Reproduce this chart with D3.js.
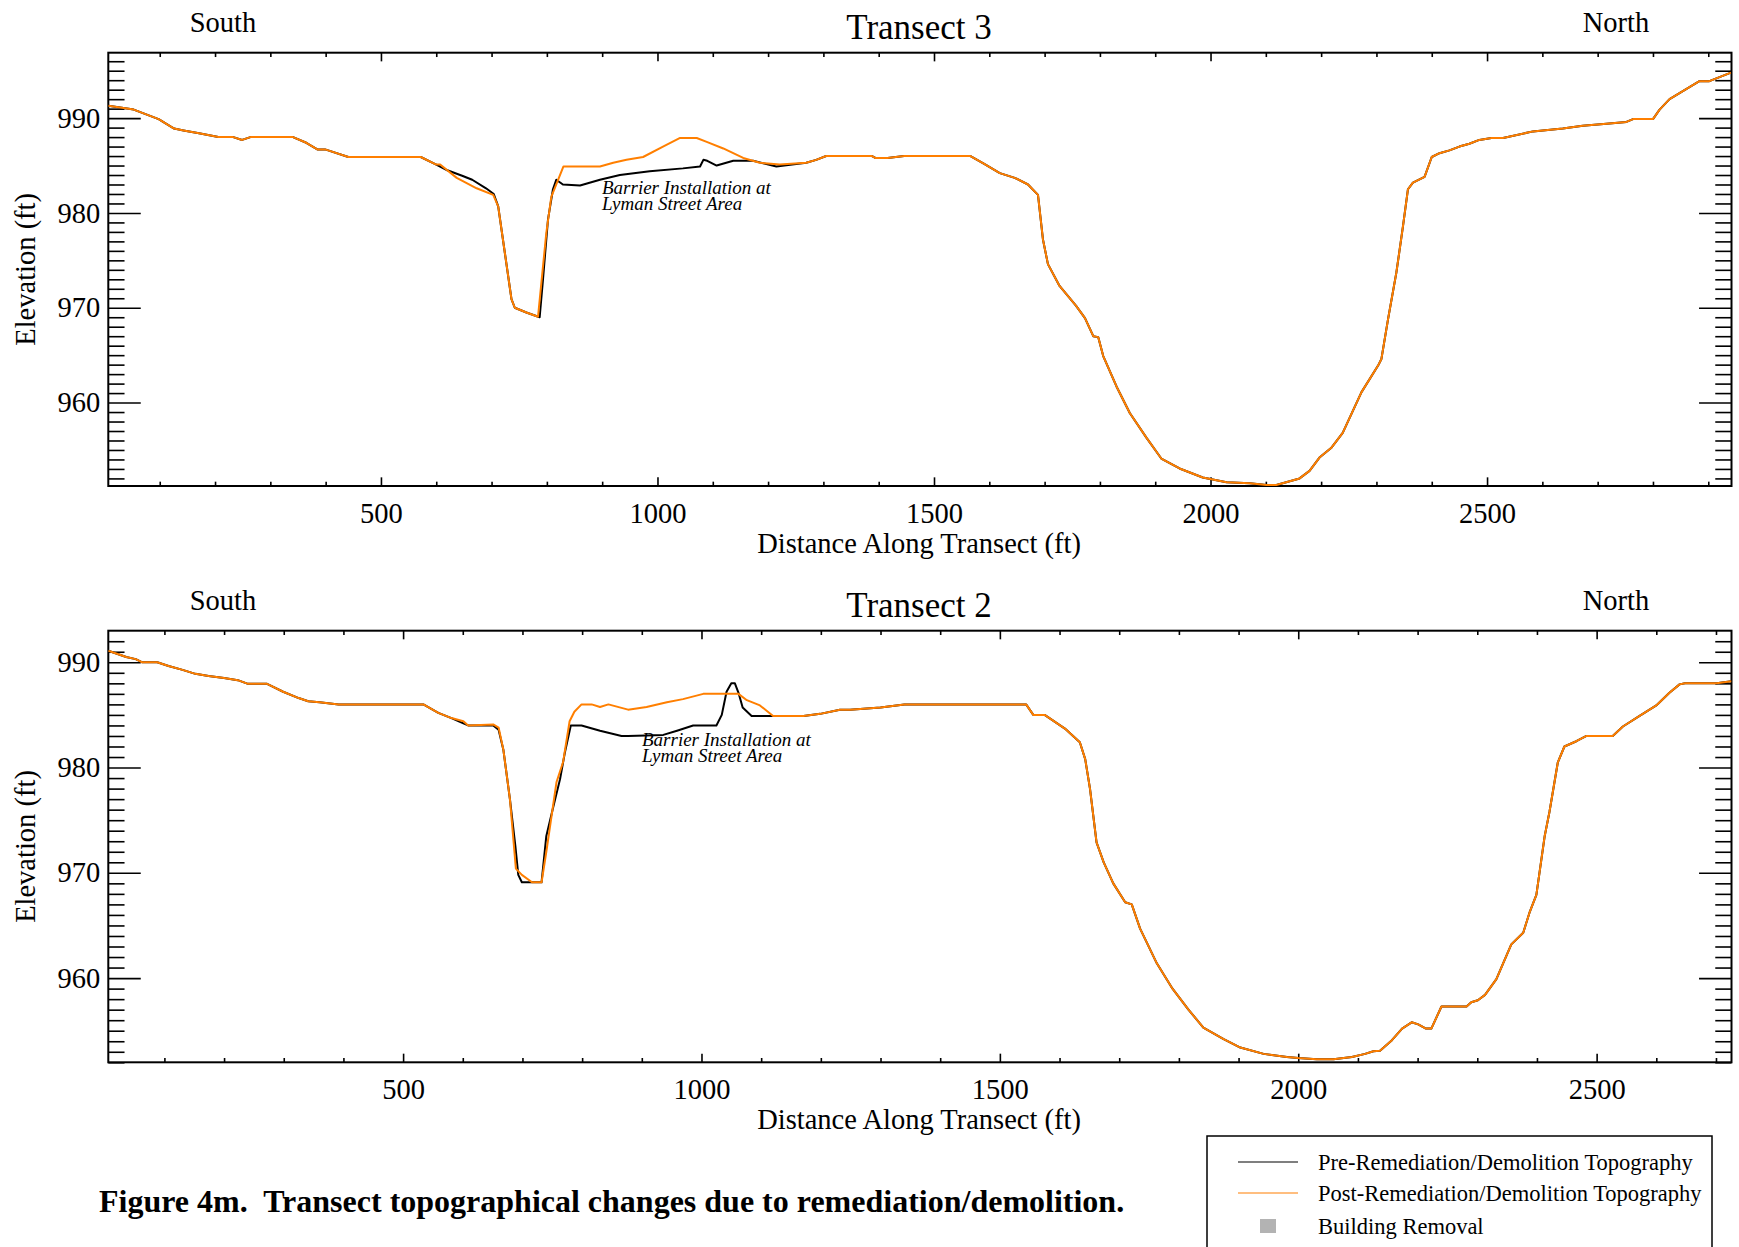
<!DOCTYPE html>
<html><head><meta charset="utf-8">
<script src="https://cdn.jsdelivr.net/npm/d3@7"></script>
<style>
html,body{margin:0;padding:0;background:#fff;}
svg text{font-family:"Liberation Serif","Times New Roman",serif;fill:#000;}
</style></head>
<body>
<svg id="c" width="1739" height="1247"></svg>
<script>
// ---------- DATA ----------
// Transect 3 : [distance ft, elevation ft]
const t3Pre = [[7,991.3],[53,990.9],[98,989.9],[126,988.9],[143,988.7],[171,988.4],[206,988.0],[233,988.0],[249,987.7],[264,988.0],[341,988.0],[365,987.4],[385,986.7],[399,986.7],[441,985.9],[572,985.9],[600,985.1],[620,984.5],[648,983.9],[665,983.5],[690,982.6],[704,982.0],[712,980.7],[724,975.8],[736,970.9],[742,970.0],[763,969.5],[787,969.0],[793,973.0],[802,979.3],[811,982.5],[817,983.5],[829,983.0],[860,982.9],[896,983.5],[932,984.0],[986,984.4],[1046,984.7],[1077,984.9],[1083,985.6],[1090,985.5],[1107,985.0],[1137,985.5],[1173,985.5],[1215,984.9],[1269,985.3],[1287,985.6],[1305,986.0],[1388,986.0],[1394,985.8],[1416,985.8],[1446,986.0],[1566,986.0],[1590,985.2],[1619,984.2],[1646,983.7],[1670,983.0],[1688,981.9],[1697,977.2],[1706,974.6],[1727,972.3],[1757,970.2],[1773,968.9],[1788,967.0],[1797,966.9],[1806,964.9],[1830,961.7],[1854,958.9],[1884,956.3],[1911,954.1],[1944,953.05],[1986,952.1],[2029,951.6],[2071,951.5],[2101,951.3],[2119,951.3],[2161,952.0],[2179,952.8],[2197,954.2],[2218,955.2],[2239,956.8],[2273,961.1],[2303,963.9],[2309,964.6],[2321,968.8],[2336,973.7],[2348,978.6],[2357,982.5],[2366,983.2],[2387,983.8],[2400,985.9],[2414,986.3],[2432,986.6],[2450,987.0],[2468,987.3],[2486,987.7],[2508,987.9],[2529,987.9],[2583,988.6],[2637,988.9],[2673,989.2],[2716,989.4],[2752,989.6],[2764,989.9],[2800,989.9],[2812,990.9],[2830,992.0],[2884,993.9],[2902,993.9],[2941,994.8]];
const t3Post = [[7,991.3],[53,990.9],[98,989.9],[126,988.9],[143,988.7],[171,988.4],[206,988.0],[233,988.0],[249,987.7],[264,988.0],[341,988.0],[365,987.4],[385,986.7],[399,986.7],[441,985.9],[572,985.9],[600,985.1],[607,985.1],[637,983.7],[673,982.6],[703,981.9],[712,980.7],[724,975.8],[736,970.9],[742,970.0],[763,969.5],[784,969.05],[799,977.9],[808,981.7],[830,984.9],[896,984.9],[920,985.3],[944,985.6],[974,985.9],[1010,987.0],[1040,987.9],[1071,987.9],[1089,987.5],[1119,986.8],[1155,985.8],[1185,985.3],[1221,985.1],[1269,985.3],[1287,985.6],[1305,986.0],[1388,986.0],[1394,985.8],[1416,985.8],[1446,986.0],[1566,986.0],[1590,985.2],[1619,984.2],[1646,983.7],[1670,983.0],[1688,981.9],[1697,977.2],[1706,974.6],[1727,972.3],[1757,970.2],[1773,968.9],[1788,967.0],[1797,966.9],[1806,964.9],[1830,961.7],[1854,958.9],[1884,956.3],[1911,954.1],[1944,953.05],[1986,952.1],[2029,951.6],[2071,951.5],[2101,951.3],[2119,951.3],[2161,952.0],[2179,952.8],[2197,954.2],[2218,955.2],[2239,956.8],[2273,961.1],[2303,963.9],[2309,964.6],[2321,968.8],[2336,973.7],[2348,978.6],[2357,982.5],[2366,983.2],[2387,983.8],[2400,985.9],[2414,986.3],[2432,986.6],[2450,987.0],[2468,987.3],[2486,987.7],[2508,987.9],[2529,987.9],[2583,988.6],[2637,988.9],[2673,989.2],[2716,989.4],[2752,989.6],[2764,989.9],[2800,989.9],[2812,990.9],[2830,992.0],[2884,993.9],[2902,993.9],[2941,994.8]];
// Transect 2
const t2Pre = [[6,991.1],[36,990.5],[52,990.3],[63,990.0],[88,990.0],[107,989.65],[129,989.3],[152,988.9],[174,988.7],[200,988.5],[223,988.3],[240,987.95],[272,987.95],[299,987.2],[325,986.6],[341,986.3],[360,986.2],[392,986.0],[534,986.0],[559,985.2],[581,984.7],[601,984.2],[609,984.0],[651,984.0],[660,983.6],[668,981.7],[679,977.0],[688,972.6],[693,969.8],[699,969.1],[732,969.1],[740,973.5],[751,976.1],[763,978.9],[771,981.4],[781,984.0],[799,984.0],[830,983.5],[866,983.0],[877,983.0],[936,983.1],[959,983.5],[986,984.0],[1025,984.0],[1034,985.0],[1042,987.2],[1050,988.0],[1056,988.0],[1062,987.1],[1069,985.7],[1084,984.9],[1126,984.9],[1171,984.9],[1199,985.1],[1232,985.5],[1249,985.5],[1300,985.7],[1340,986.0],[1544,986.0],[1556,985.0],[1575,985.0],[1609,983.7],[1634,982.4],[1643,980.8],[1651,978.0],[1662,972.9],[1674,971.0],[1690,969.0],[1710,967.2],[1721,967.0],[1735,964.7],[1763,961.4],[1788,959.1],[1816,957.0],[1841,955.3],[1875,954.2],[1903,953.4],[1942,952.8],[1981,952.5],[2000,952.4],[2031,952.3],[2059,952.3],[2090,952.5],[2112,952.8],[2126,953.05],[2137,953.1],[2157,954.1],[2174,955.2],[2190,955.8],[2201,955.6],[2214,955.2],[2223,955.2],[2240,957.3],[2282,957.3],[2290,957.7],[2301,957.9],[2313,958.4],[2332,959.9],[2357,963.2],[2377,964.3],[2388,966.3],[2399,967.9],[2413,973.5],[2421,975.8],[2435,980.5],[2446,982.0],[2466,982.5],[2483,983.0],[2527,983.0],[2544,983.9],[2572,984.9],[2600,985.9],[2622,987.1],[2639,987.9],[2648,988.0],[2701,988.0],[2726,988.2]];
const t2Post = [[6,991.1],[36,990.5],[52,990.3],[63,990.0],[88,990.0],[107,989.65],[129,989.3],[152,988.9],[174,988.7],[200,988.5],[223,988.3],[240,987.95],[272,987.95],[299,987.2],[325,986.6],[341,986.3],[360,986.2],[392,986.0],[534,986.0],[559,985.2],[581,984.7],[601,984.4],[609,984.0],[651,984.1],[660,983.8],[668,981.7],[679,977.0],[689,970.4],[699,969.8],[716,969.1],[732,969.1],[740,972.0],[757,978.6],[768,980.5],[779,984.4],[787,985.3],[799,986.0],[816,986.0],[830,985.75],[844,986.0],[877,985.5],[908,985.75],[942,986.2],[969,986.5],[1003,987.0],[1062,987.0],[1076,986.4],[1098,985.9],[1120,984.9],[1126,984.9],[1171,984.9],[1199,985.1],[1232,985.5],[1249,985.5],[1300,985.7],[1340,986.0],[1544,986.0],[1556,985.0],[1575,985.0],[1609,983.7],[1634,982.4],[1643,980.8],[1651,978.0],[1662,972.9],[1674,971.0],[1690,969.0],[1710,967.2],[1721,967.0],[1735,964.7],[1763,961.4],[1788,959.1],[1816,957.0],[1841,955.3],[1875,954.2],[1903,953.4],[1942,952.8],[1981,952.5],[2000,952.4],[2031,952.3],[2059,952.3],[2090,952.5],[2112,952.8],[2126,953.05],[2137,953.1],[2157,954.1],[2174,955.2],[2190,955.8],[2201,955.6],[2214,955.2],[2223,955.2],[2240,957.3],[2282,957.3],[2290,957.7],[2301,957.9],[2313,958.4],[2332,959.9],[2357,963.2],[2377,964.3],[2388,966.3],[2399,967.9],[2413,973.5],[2421,975.8],[2435,980.5],[2446,982.0],[2466,982.5],[2483,983.0],[2527,983.0],[2544,983.9],[2572,984.9],[2600,985.9],[2622,987.1],[2639,987.9],[2648,988.0],[2701,988.0],[2726,988.2]];

const xTicks = [500, 1000, 1500, 2000, 2500];
const yTicks = [960, 970, 980, 990];
const panelTitles = ["Transect 3", "Transect 2"];
const endLabels = ["South", "North"];
const annotation = ["Barrier Installation at", "Lyman Street Area"];
const legendLabels = ["Pre-Remediation/Demolition Topography", "Post-Remediation/Demolition Topography", "Building Removal"];
const seriesColors = ["#000000", "#ff7f00"];
const caption = "Figure 4m.  Transect topographical changes due to remediation/demolition.";

// ---------- DRAW ----------
const svg = d3.select("#c");
const FS = 28.5;

const panels = [
  {title: panelTitles[0], pre: t3Pre, post: t3Post, xDom: [7, 2942], yDom: [951.2, 996.9],
   box: {l: 108.3, r: 1731.5, t: 52.7, b: 486}, ann: [602, 194]},
  {title: panelTitles[1], pre: t2Pre, post: t2Post, xDom: [6, 2726], yDom: [952, 993],
   box: {l: 108.3, r: 1731.5, t: 630.7, b: 1062.3}, ann: [642, 746]}
];

panels.forEach(p => {
  const b = p.box, W = b.r - b.l, H = b.b - b.t;
  const x = d3.scaleLinear().domain(p.xDom).range([b.l, b.r]);
  const y = d3.scaleLinear().domain(p.yDom).range([b.b, b.t]);
  const xMinor = d3.range(100, p.xDom[1], 100).filter(v => v > p.xDom[0] && v % 500 !== 0);
  const yMinor = d3.range(Math.ceil(p.yDom[0]), p.yDom[1], 1).filter(v => v % 10 !== 0);
  const xTL = 0.02 * H, yTL = 0.02 * W;

  const g = svg.append("g");
  function ax(axis, tr, labels) {
    const a = g.append("g").attr("transform", tr).call(axis);
    a.select(".domain").remove();
    a.selectAll("line").attr("stroke", "#000").attr("stroke-width", 1.6);
    if (labels) a.selectAll("text").attr("font-size", FS).attr("font-family", "Liberation Serif").attr("fill", "#000");
    else a.selectAll("text").remove();
  }
  ax(d3.axisBottom(x).tickValues(xTicks).tickSize(-xTL).tickPadding(37 - 0.71 * FS).tickFormat(d3.format("d")), `translate(0,${b.b})`, true);
  ax(d3.axisBottom(x).tickValues(xMinor).tickSize(-xTL / 2), `translate(0,${b.b})`, false);
  ax(d3.axisTop(x).tickValues(xTicks).tickSize(-xTL), `translate(0,${b.t})`, false);
  ax(d3.axisTop(x).tickValues(xMinor).tickSize(-xTL / 2), `translate(0,${b.t})`, false);
  ax(d3.axisLeft(y).tickValues(yTicks).tickSize(-yTL).tickPadding(8).tickFormat(d3.format("d")), `translate(${b.l},0)`, true);
  ax(d3.axisLeft(y).tickValues(yMinor).tickSize(-yTL / 2), `translate(${b.l},0)`, false);
  ax(d3.axisRight(y).tickValues(yTicks).tickSize(-yTL), `translate(${b.r},0)`, false);
  ax(d3.axisRight(y).tickValues(yMinor).tickSize(-yTL / 2), `translate(${b.r},0)`, false);

  g.append("rect").attr("x", b.l).attr("y", b.t).attr("width", W).attr("height", H)
    .attr("fill", "none").attr("stroke", "#000").attr("stroke-width", 2);

  const line = d3.line().x(d => x(d[0])).y(d => y(d[1]));
  const clipId = "clip" + p.title.replace(/\s/g, "");
  svg.append("clipPath").attr("id", clipId).append("rect")
    .attr("x", b.l).attr("y", b.t - 2).attr("width", W).attr("height", H + 4);
  const lg = svg.append("g").attr("clip-path", `url(#${clipId})`);
  lg.append("path").datum(p.pre).attr("d", line).attr("fill", "none")
    .attr("stroke", seriesColors[0]).attr("stroke-width", 2).attr("stroke-linejoin", "round");
  lg.append("path").datum(p.post).attr("d", line).attr("fill", "none")
    .attr("stroke", seriesColors[1]).attr("stroke-width", 2).attr("stroke-linejoin", "round");

  svg.append("text").attr("x", 919).attr("y", b.t - 14).attr("text-anchor", "middle")
    .attr("font-size", 35).text(p.title);
  svg.append("text").attr("x", 223).attr("y", b.t - 21).attr("text-anchor", "middle")
    .attr("font-size", FS).text(endLabels[0]);
  svg.append("text").attr("x", 1616).attr("y", b.t - 21).attr("text-anchor", "middle")
    .attr("font-size", FS).text(endLabels[1]);
  svg.append("text").attr("x", 919).attr("y", b.b + 67).attr("text-anchor", "middle")
    .attr("font-size", FS).text("Distance Along Transect (ft)");
  svg.append("text").attr("transform", `translate(35,${(b.t + b.b) / 2}) rotate(-90)`)
    .attr("text-anchor", "middle").attr("font-size", FS).text("Elevation (ft)");
  const at = svg.append("text").attr("font-size", 19).attr("font-style", "italic");
  annotation.forEach((t, i) => {
    at.append("tspan").attr("x", p.ann[0]).attr("y", p.ann[1] + i * 15.5).text(t);
  });
});

svg.append("text").attr("x", 99).attr("y", 1212).attr("font-size", 32).attr("font-weight", "bold")
  .style("white-space", "pre").text(caption);

const lgd = svg.append("g");
lgd.append("rect").attr("x", 1207).attr("y", 1136).attr("width", 505).attr("height", 140)
  .attr("fill", "#fff").attr("stroke", "#000").attr("stroke-width", 1.5);
const rowY = [1162, 1193, 1226];
[0, 1].forEach(i => {
  lgd.append("line").attr("x1", 1238).attr("x2", 1298).attr("y1", rowY[i]).attr("y2", rowY[i])
    .attr("stroke", seriesColors[i]).attr("stroke-width", 1.2);
});
lgd.append("rect").attr("x", 1260).attr("y", 1219).attr("width", 16).attr("height", 14).attr("fill", "#b3b3b3");
legendLabels.forEach((t, i) => {
  lgd.append("text").attr("x", 1318).attr("y", rowY[i] + 7.5).attr("font-size", 22.5).text(t);
});
</script>
</body></html>
